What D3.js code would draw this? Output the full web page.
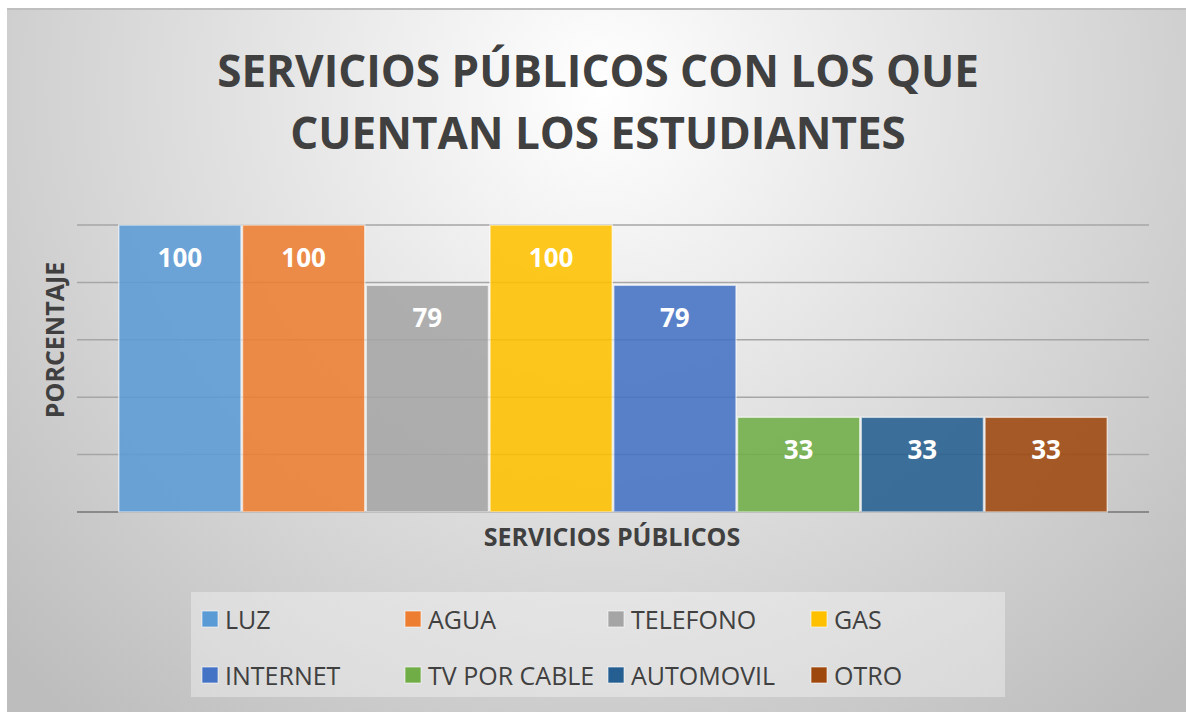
<!DOCTYPE html>
<html lang="es">
<head>
<meta charset="UTF-8">
<title>Servicios públicos</title>
<style>
  body { margin: 0; background: #fff; }
  svg { display: block; font-family: "Open Sans", sans-serif; }
</style>
</head>
<body>
<svg></svg>
<script src="https://d3js.org/d3.v7.min.js"></script>
<script>
var categories = ["LUZ", "AGUA", "TELEFONO", "GAS", "INTERNET", "TV POR CABLE", "AUTOMOVIL", "OTRO"];
var values = [100, 100, 79, 100, 79, 33, 33, 33];
var colors = ["#5b9bd5", "#ed7d31", "#a5a5a5", "#ffc000", "#4472c4", "#70ad47", "#255e91", "#9e480e"];
var yTicks = [0, 20, 40, 60, 80, 100];
var titleLines = ["SERVICIOS PÚBLICOS CON LOS QUE", "CUENTAN LOS ESTUDIANTES"];

var W = 1186, H = 713;
var svg = d3.select("svg").attr("width", W).attr("height", H);

// chart area background
var defs = svg.append("defs");
var grad = defs.append("radialGradient").attr("id", "bg")
    .attr("gradientUnits", "userSpaceOnUse")
    .attr("cx", 600).attr("cy", 90).attr("r", 820);
grad.append("stop").attr("offset", "0%").attr("stop-color", "#ffffff");
grad.append("stop").attr("offset", "100%").attr("stop-color", "#bdbdbd");

svg.append("rect").attr("x", 7).attr("y", 8).attr("width", W - 7).attr("height", H - 9)
    .attr("fill", "url(#bg)");
svg.append("line").attr("x1", 7).attr("x2", W).attr("y1", 9).attr("y2", 9)
    .attr("stroke", "#bfbfbf").attr("stroke-width", 2);

// title
svg.append("g").selectAll("text").data(titleLines).join("text")
    .attr("x", 598).attr("y", function(d, i) { return 87 + i * 62; })
    .attr("text-anchor", "middle")
    .attr("font-size", 44).attr("font-weight", 700).attr("fill", "#404040")
    .text(function(d) { return d; });

var margin = { left: 118, right: 78, top: 225, bottom: 201 };
var plotH = H - margin.top - margin.bottom;

var x = d3.scaleBand().domain(categories).range([0, 990]).padding(0);
var y = d3.scaleLinear().domain([0, 100]).range([plotH, 0]);

var g = svg.append("g").attr("transform", "translate(" + margin.left + "," + margin.top + ")");

// gridlines
g.append("g").selectAll("line").data(yTicks).join("line")
    .attr("x1", -41).attr("x2", 1031)
    .attr("y1", function(d) { return y(d); }).attr("y2", function(d) { return y(d); })
    .attr("stroke", function(d) { return d === 0 ? "#8a8a8a" : "#a6a6a6"; })
    .attr("stroke-width", function(d) { return d === 0 ? 2 : 1.5; });

// bars
g.append("g").selectAll("rect").data(values).join("rect")
    .attr("x", function(d, i) { return x(categories[i]) + 0.75; })
    .attr("y", function(d) { return y(d); })
    .attr("width", x.bandwidth() - 1.5)
    .attr("height", function(d) { return plotH - y(d); })
    .attr("fill", function(d, i) { return colors[i]; })
    .attr("fill-opacity", 0.88)
    .attr("stroke", "#ffffff").attr("stroke-opacity", 0.6).attr("stroke-width", 1.5);

// value labels
g.append("g").selectAll("text").data(values).join("text")
    .attr("x", function(d, i) { return x(categories[i]) + x.bandwidth() / 2; })
    .attr("y", function(d) { return y(d) + 42; })
    .attr("text-anchor", "middle")
    .attr("font-size", 26).attr("font-weight", 700).attr("fill", "#ffffff")
    .text(function(d) { return d; });

// axis titles
svg.append("text").attr("x", 612).attr("y", 546).attr("text-anchor", "middle")
    .attr("font-size", 25).attr("font-weight", 700).attr("fill", "#404040")
    .text("SERVICIOS PÚBLICOS");
svg.append("text").attr("transform", "translate(64,340) rotate(-90)").attr("text-anchor", "middle")
    .attr("font-size", 25).attr("font-weight", 700).attr("fill", "#404040")
    .text("PORCENTAJE");

// legend
var lg = svg.append("g");
lg.append("rect").attr("x", 191).attr("y", 592).attr("width", 814).attr("height", 105)
    .attr("fill", "#ffffff").attr("fill-opacity", 0.35);
var item = lg.selectAll("g.item").data(categories).join("g").attr("class", "item")
    .attr("transform", function(d, i) {
        return "translate(" + (202 + (i % 4) * 203) + "," + (i < 4 ? 619 : 675) + ")";
    });
item.append("rect").attr("x", 0).attr("y", -8).attr("width", 16).attr("height", 16)
    .attr("fill", function(d, i) { return colors[i]; })
    .attr("stroke", "#ffffff").attr("stroke-opacity", 0.6).attr("stroke-width", 1);
item.append("text").attr("x", 23).attr("y", 9.5)
    .attr("font-size", 25).attr("fill", "#404040")
    .text(function(d) { return d; });
</script>
</body>
</html>
